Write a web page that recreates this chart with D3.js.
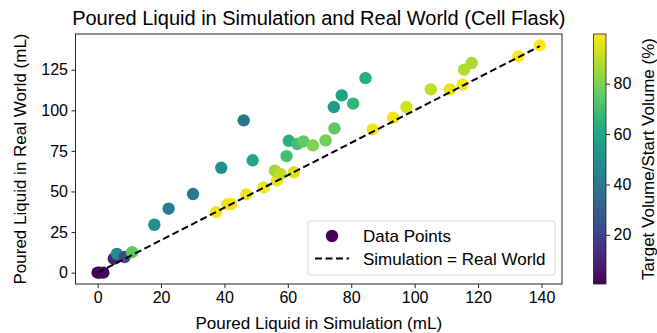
<!DOCTYPE html>
<html>
<head>
<meta charset="utf-8">
<script src="https://cdn.jsdelivr.net/npm/d3@7"></script>
<style>
  body { margin: 0; background: #fff; }
  text { font-family: "Liberation Sans", Arial, sans-serif; fill: #000; }
</style>
</head>
<body>
<svg id="chart" width="657" height="333"></svg>
<script>
// poured volume in simulation (mL)
var simVolume = [0, 0.6, 1.8, 5.1, 6.1, 8.5, 10.9, 17.9, 22.4, 30.1, 39.0, 46.1, 48.9,
  37.4, 40.9, 42.1, 46.9, 52.4, 56.6, 55.9, 57.6, 61.9, 59.6, 60.3, 63.0, 64.9,
  67.9, 71.9, 74.7, 74.5, 77.0, 80.6, 84.5, 86.8, 93.2, 97.4, 105.1, 111.1,
  115.1, 115.6, 118.0, 132.7, 139.5];
// poured volume in the real world (mL)
var realVolume = [0, 0, 0, 8.6, 11.5, 9.6, 12.6, 29.5, 39.4, 48.4, 64.6, 93.8, 69.2,
  37.3, 42.2, 42.2, 48.2, 52.5, 56.8, 62.8, 60.8, 61.8, 71.8, 81.2, 79.2, 80.8,
  78.4, 81.5, 88.8, 102.0, 109.2, 104.1, 119.8, 88.2, 95.4, 102.0, 112.9, 112.9,
  115.8, 125.0, 129.1, 133.2, 140.0];
// target volume / start volume (%)
var targetPct = [0.5, 1, 2, 10, 48, 22, 75, 50, 42, 40, 50, 40, 60,
  97, 97, 97, 97, 97, 97, 85, 90, 95, 70, 63, 70, 75,
  80, 78, 75, 55, 58, 66, 63, 97, 97, 92, 90, 96,
  98, 88, 87, 99, 99.7];
var xTicks = [0, 20, 40, 60, 80, 100, 120, 140];
var yTicks = [0, 25, 50, 75, 100, 125];
var cTicks = [20, 40, 60, 80];

var svg = d3.select("#chart");
var plot = {left: 75.5, right: 562, top: 34, bottom: 284};

var points = simVolume.map(function(d, i) {
  return {x: d, y: realVolume[i], c: targetPct[i]};
});

// matplotlib style 5% margins
function padded(ext) {
  var m = (ext[1] - ext[0]) * 0.05;
  return [ext[0] - m, ext[1] + m];
}
var xScale = d3.scaleLinear().domain(padded(d3.extent(simVolume))).range([plot.left, plot.right]);
var yScale = d3.scaleLinear().domain(padded(d3.extent(realVolume))).range([plot.bottom, plot.top]);
var cScale = d3.scaleSequential(d3.interpolateViridis).domain(d3.extent(targetPct));

// points
svg.append("g").selectAll("circle")
  .data(points)
  .enter()
  .append("circle")
  .attr("cx", function(d) { return xScale(d.x); })
  .attr("cy", function(d) { return yScale(d.y); })
  .attr("r", 6.2)
  .attr("fill", function(d) { return cScale(d.c); });

// identity line
var lo = d3.min(simVolume), hi = d3.max(simVolume);
svg.append("line")
  .attr("x1", xScale(lo)).attr("y1", yScale(lo))
  .attr("x2", xScale(hi)).attr("y2", yScale(hi))
  .attr("stroke", "#000")
  .attr("stroke-width", 2)
  .attr("stroke-dasharray", "7,3.5");

// axes
var xAxis = svg.append("g")
  .attr("transform", "translate(0," + plot.bottom + ")")
  .call(d3.axisBottom(xScale).tickValues(xTicks).tickSize(4).tickPadding(3.5));
var yAxis = svg.append("g")
  .attr("transform", "translate(" + plot.left + ",0)")
  .call(d3.axisLeft(yScale).tickValues(yTicks).tickSize(4).tickPadding(3.5));
[xAxis, yAxis].forEach(function(a) {
  a.select(".domain").remove();
  a.selectAll("text").style("font-size", "16px").style("font-family", "Liberation Sans, Arial, sans-serif");
  a.selectAll("line").attr("stroke", "#222");
});

svg.append("rect")
  .attr("x", plot.left).attr("y", plot.top)
  .attr("width", plot.right - plot.left).attr("height", plot.bottom - plot.top)
  .attr("fill", "none").attr("stroke", "#222").attr("stroke-width", 1);

// titles
svg.append("text")
  .attr("x", (plot.left + plot.right) / 2).attr("y", 25)
  .attr("text-anchor", "middle")
  .style("font-size", "20px")
  .text("Poured Liquid in Simulation and Real World (Cell Flask)");
svg.append("text")
  .attr("x", (plot.left + plot.right) / 2).attr("y", 329)
  .attr("text-anchor", "middle")
  .style("font-size", "17px")
  .text("Poured Liquid in Simulation (mL)");
svg.append("text")
  .attr("transform", "translate(26," + (plot.top + plot.bottom) / 2 + ") rotate(-90)")
  .attr("text-anchor", "middle")
  .style("font-size", "17px")
  .text("Poured Liquid in Real World (mL)");

// legend
var leg = svg.append("g");
leg.append("rect")
  .attr("x", 308).attr("y", 221).attr("width", 247).attr("height", 54)
  .attr("rx", 3)
  .attr("fill", "#fff").attr("fill-opacity", 0.8)
  .attr("stroke", "#d6d6d6");
leg.append("circle")
  .attr("cx", 332).attr("cy", 236).attr("r", 6.2)
  .attr("fill", cScale(d3.min(targetPct)));
leg.append("line")
  .attr("x1", 315).attr("y1", 258.5).attr("x2", 349).attr("y2", 258.5)
  .attr("stroke", "#000").attr("stroke-width", 2).attr("stroke-dasharray", "7,3.5");
leg.append("text").attr("x", 363).attr("y", 241.5).style("font-size", "17px").text("Data Points");
leg.append("text").attr("x", 363).attr("y", 264.5).style("font-size", "17px").text("Simulation = Real World");

// colorbar
var cb = {x: 593.5, w: 12.5};
var cbScale = d3.scaleLinear().domain(cScale.domain()).range([plot.bottom, plot.top]);
var grad = svg.append("defs").append("linearGradient")
  .attr("id", "viridis").attr("x1", "0").attr("y1", "1").attr("x2", "0").attr("y2", "0");
d3.range(0, 1.001, 0.05).forEach(function(t) {
  grad.append("stop").attr("offset", t).attr("stop-color", d3.interpolateViridis(t));
});
svg.append("rect")
  .attr("x", cb.x).attr("y", plot.top)
  .attr("width", cb.w).attr("height", plot.bottom - plot.top)
  .attr("fill", "url(#viridis)").attr("stroke", "#222").attr("stroke-width", 0.8);
var cAxis = svg.append("g")
  .attr("transform", "translate(" + (cb.x + cb.w) + ",0)")
  .call(d3.axisRight(cbScale).tickValues(cTicks).tickSize(4).tickPadding(3.5));
cAxis.select(".domain").remove();
cAxis.selectAll("text").style("font-size", "16px").style("font-family", "Liberation Sans, Arial, sans-serif");
cAxis.selectAll("line").attr("stroke", "#222");
svg.append("text")
  .attr("transform", "translate(654," + (plot.top + plot.bottom) / 2 + ") rotate(-90)")
  .attr("text-anchor", "middle")
  .style("font-size", "17px")
  .text("Target Volume/Start Volume (%)");
</script>
</body>
</html>
